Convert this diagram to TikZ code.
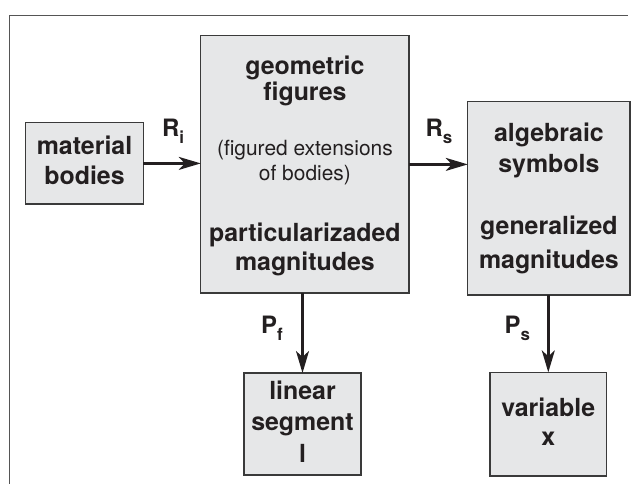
\documentclass[tikz,border=0pt]{standalone}
\usepackage{fontspec}
\setmainfont{TeX Gyre Heros}
\usetikzlibrary{arrows.meta}
\definecolor{boxfill}{HTML}{E6E7E8}
\definecolor{boxline}{HTML}{3A3A3A}
\definecolor{ink}{HTML}{231F20}
\definecolor{framecol}{HTML}{555555}
\newcommand\lowsub[1]{\raisebox{-7bp}{\fontsize{17}{17}\selectfont #1}}
\begin{document}
\begin{tikzpicture}[x=1bp,y=-1bp,
  box/.style={rectangle, draw=boxline, fill=boxfill, line width=1.3bp, inner sep=0pt, outer sep=0pt},
  bt/.style={anchor=base, inner sep=0pt, text=ink, font=\bfseries\fontsize{25}{30}\selectfont},
  st/.style={anchor=base, inner sep=0pt, text=ink, font=\fontsize{21}{25}\selectfont},
  lab/.style={anchor=base west, inner sep=0pt, text=ink, font=\bfseries\fontsize{24}{28}\selectfont},
  arr/.style={draw=ink, line width=2.4bp, -{Stealth[length=22bp,width=13bp,inset=6bp]}},
  framepath/.style={draw=framecol, line width=1.2bp}]
\useasboundingbox (0,0) rectangle (638,484);

% partial outer frame
\draw[framepath] (9.5,484) |- (628,15.5);

% boxes
\node[box, minimum width=117.6bp, minimum height=81.3bp]  (mat) at (84.5,163.4) {};
\node[box, minimum width=208.3bp, minimum height=257.3bp] (geo) at (304.9,164.4) {};
\node[box, minimum width=162.3bp, minimum height=193.3bp] (alg) at (548.9,198.4) {};
\node[box, minimum width=117bp,   minimum height=102bp]   (lin) at (302.5,424) {};
\node[box, minimum width=116.7bp, minimum height=103.7bp] (var) at (548.3,424.2) {};

% box texts
\node[bt] (mat1) at (84.5,155) {material};
\node[bt] (mat2) at (84.5,185) {bodies};

\node[bt] (geo1) at (304.9,74.3) {geometric};
\node[bt] (geo2) at (304.9,100.7) {figures};
\node[st] (geo3) at (304.9,156) {(figured extensions};
\node[st] (geo4) at (304.9,180.5) {of bodies)};
\node[bt] (geo5) at (304.9,241.5) {particularizaded};
\node[bt] (geo6) at (304.9,270) {magnitudes};

\node[bt] (alg1) at (548.9,141.7) {algebraic};
\node[bt] (alg2) at (548.9,172.5) {symbols};
\node[bt] (alg3) at (548.9,235) {generalized};
\node[bt] (alg4) at (548.9,268) {magnitudes};

\node[bt] (lin1) at (302.5,399) {linear};
\node[bt] (lin2) at (302.5,430.5) {segment};
\node[bt] (lin3) at (302.5,462.5) {l};

\node[bt] (var1) at (548.3,416) {variable};
\node[bt] (var2) at (548.3,445) {x};

% connectors
\draw[arr] (mat.east) -- (mat.east -| geo.west);
\draw[arr] (geo.east) -- (geo.east -| alg.west);
\draw[arr] (lin.north |- geo.south) -- (lin.north);
\draw[arr] (var.north |- alg.south) -- (var.north);

% connector labels
\node[lab] (ri) at (162,136.5) {R\lowsub{i}};
\node[lab] (rs) at (425.5,136.5) {R\lowsub{s}};
\node[lab] (pf) at (261,333) {P\lowsub{f}};
\node[lab] (ps) at (504.5,333) {P\lowsub{s}};
\end{tikzpicture}
\end{document}
